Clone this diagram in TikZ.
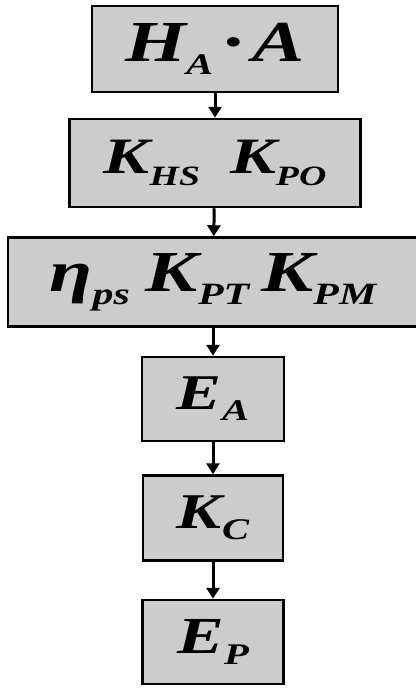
\documentclass[tikz,border=0pt]{standalone}
\usepackage{fontspec}
\setmainfont{Liberation Serif}[FakeStretch=1.35]
\usetikzlibrary{arrows.meta, positioning}

% pedice abbassato: [corpo]{testo}
\newcommand{\sbs}[2][28]{\raisebox{-0.22em}{\fontsize{#1}{#1}\selectfont #2}}
% corpo del simbolo principale
\newcommand{\corpo}[1]{\fontsize{#1}{#1}\selectfont\bfseries\itshape}

\tikzset{
  blocco/.style = {draw, line width=2.5pt, fill=black!20, inner sep=0pt},
  freccia/.style = {line width=3pt, -{Triangle[width=13pt, length=11pt]}}
}

\begin{document}
\begin{tikzpicture}[x=1pt, y=-1pt]

    \useasboundingbox (0,0) rectangle (415,688);

    % Blocchi
    \node[blocco, minimum width=246pt, minimum height=86pt, font=\corpo{58}] (ha) at (215,49)
        {H\sbs[30]{A}\hspace{10pt}·\hspace{10pt}A};
    \node[blocco, minimum width=291pt, minimum height=88pt, font=\corpo{51}] (khs) at (215,163)
        {K\sbs[28]{HS}\hspace{30pt}K\sbs[28]{PO}};
    \node[blocco, minimum width=410pt, minimum height=89pt, font=\corpo{58}] (eta) at (213,282)
        {η\sbs[31]{ps}\hspace{16pt}K\sbs[31]{PT}\hspace{12pt}K\sbs[31]{PM}};
    \node[blocco, minimum width=142pt, minimum height=84pt, font=\corpo{50}] (ea) at (213,399)
        {E\sbs[30]{A}};
    \node[blocco, minimum width=140pt, minimum height=85pt, font=\corpo{50}] (kc) at (213,518)
        {K\sbs[30]{C}};
    \node[blocco, minimum width=141pt, minimum height=84pt, font=\corpo{52}] (ep) at (213,642)
        {E\sbs[30]{P}};

    % Frecce
    \draw[freccia] (ha) -- (khs);
    \draw[freccia] (khs) -- (eta);
    \draw[freccia] (eta) -- (ea);
    \draw[freccia] (ea) -- (kc);
    \draw[freccia] (kc) -- (ep);

\end{tikzpicture}
\end{document}
